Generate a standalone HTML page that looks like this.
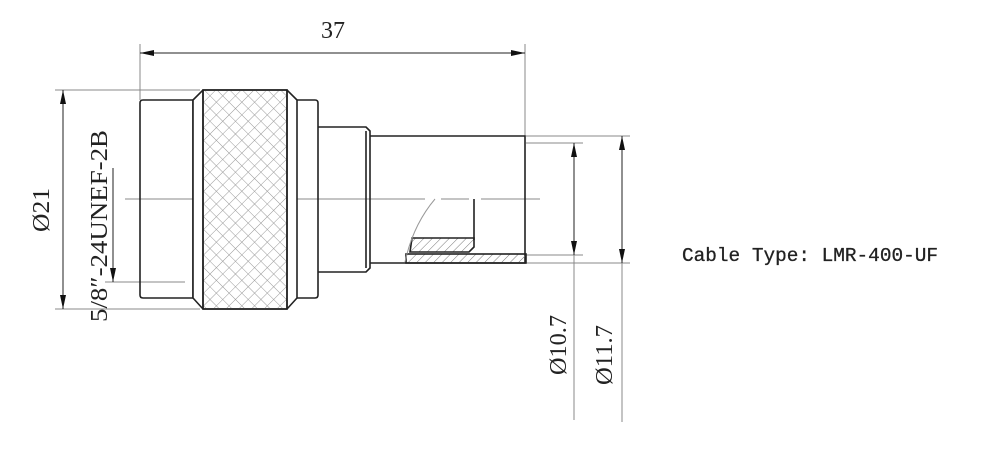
<!DOCTYPE html>
<html><head><style>html,body{margin:0;padding:0;background:#fff}svg{display:block}</style></head>
<body>
<svg width="1000" height="454" viewBox="0 0 1000 454" xmlns="http://www.w3.org/2000/svg">
<defs>
<pattern id="knurl" width="9" height="9" patternUnits="userSpaceOnUse" patternTransform="rotate(45)">
<path d="M0 0H9M0 0V9" stroke="#999" stroke-width="1"/>
</pattern>
<pattern id="hatch" width="6" height="6" patternUnits="userSpaceOnUse" patternTransform="rotate(45)">
<path d="M0 0V6" stroke="#777" stroke-width="1"/>
</pattern>
<marker id="a" viewBox="0 0 14 6" refX="14" refY="3" markerWidth="14" markerHeight="6" markerUnits="userSpaceOnUse" orient="auto-start-reverse"><path d="M0 0L14 3L0 6z" fill="#111"/></marker>
</defs>
<g stroke="#888" stroke-width="1" fill="none">
<line x1="140" y1="44" x2="140" y2="100"/>
<line x1="525" y1="44" x2="525" y2="136"/>
<line x1="55" y1="90" x2="200" y2="90"/>
<line x1="55" y1="309" x2="200" y2="309"/>
<line x1="105" y1="282" x2="185" y2="282"/>
<line x1="526" y1="143" x2="583" y2="143"/>
<line x1="526" y1="255" x2="583" y2="255"/>
<line x1="526" y1="136" x2="630" y2="136"/>
<line x1="526" y1="263" x2="630" y2="263"/>
<line x1="125" y1="199" x2="540" y2="199"/>
<line x1="425" y1="199" x2="441" y2="199" stroke="#fff" stroke-width="2"/>
<line x1="469" y1="199" x2="481" y2="199" stroke="#fff" stroke-width="2"/>
</g>
<g stroke="#222" stroke-width="1" fill="none">
<line x1="140" y1="53" x2="525" y2="53" marker-start="url(#a)" marker-end="url(#a)"/>
<line x1="63" y1="90" x2="63" y2="309" marker-start="url(#a)" marker-end="url(#a)"/>
<line x1="113" y1="168" x2="113" y2="282" marker-end="url(#a)"/>
<line x1="574" y1="143" x2="574" y2="255" marker-start="url(#a)" marker-end="url(#a)"/>
<line x1="574" y1="255" x2="574" y2="420" stroke="#888"/>
<line x1="622" y1="136" x2="622" y2="263" marker-start="url(#a)" marker-end="url(#a)"/>
<line x1="622" y1="263" x2="622" y2="422" stroke="#888"/>
</g>
<g stroke="#222" stroke-width="1.6" fill="none">
<path d="M143 100H193V298H143Q140 298 140 295V103Q140 100 143 100Z"/>
<path d="M193 100L203 90H287L297 100V298L287 309H203L193 298Z" fill="#fff"/>
<rect x="203" y="90" width="84" height="219" fill="url(#knurl)"/>
<line x1="203" y1="90" x2="203" y2="309"/>
<line x1="287" y1="90" x2="287" y2="309"/>
<path d="M297 100H315Q318 100 318 103V295Q318 298 315 298H297"/>
<path d="M318 127H366L370 131V268L366 272H318"/>
<path d="M370 136H525V263H370"/>
<line x1="366" y1="131" x2="366" y2="268"/>
<line x1="474" y1="199" x2="474" y2="240"/>
<path d="M412 238H474V247L469 252H410Z" fill="url(#hatch)"/>
<rect x="406" y="254" width="120" height="9" fill="url(#hatch)"/>
</g>
<path d="M435 199Q413 225 405 262" stroke="#999" stroke-width="1" fill="none"/>
<g font-family="Liberation Serif, serif" font-size="24" fill="#222">
<text x="333" y="38" text-anchor="middle">37</text>
<text transform="translate(49 210) rotate(-90)" text-anchor="middle" textLength="44" lengthAdjust="spacingAndGlyphs">Ø21</text>
<text transform="translate(107 226) rotate(-90)" text-anchor="middle" textLength="192" lengthAdjust="spacingAndGlyphs">5/8″-24UNEF-2B</text>
<text transform="translate(566 345) rotate(-90)" text-anchor="middle" textLength="60" lengthAdjust="spacingAndGlyphs">Ø10.7</text>
<text transform="translate(612 355) rotate(-90)" text-anchor="middle" textLength="60" lengthAdjust="spacingAndGlyphs">Ø11.7</text>
</g>
<text x="682" y="261" font-family="Liberation Mono, monospace" font-size="19" fill="#222" stroke="#222" stroke-width="0.3" textLength="256" lengthAdjust="spacingAndGlyphs">Cable Type: LMR-400-UF</text>
</svg>
</body></html>
